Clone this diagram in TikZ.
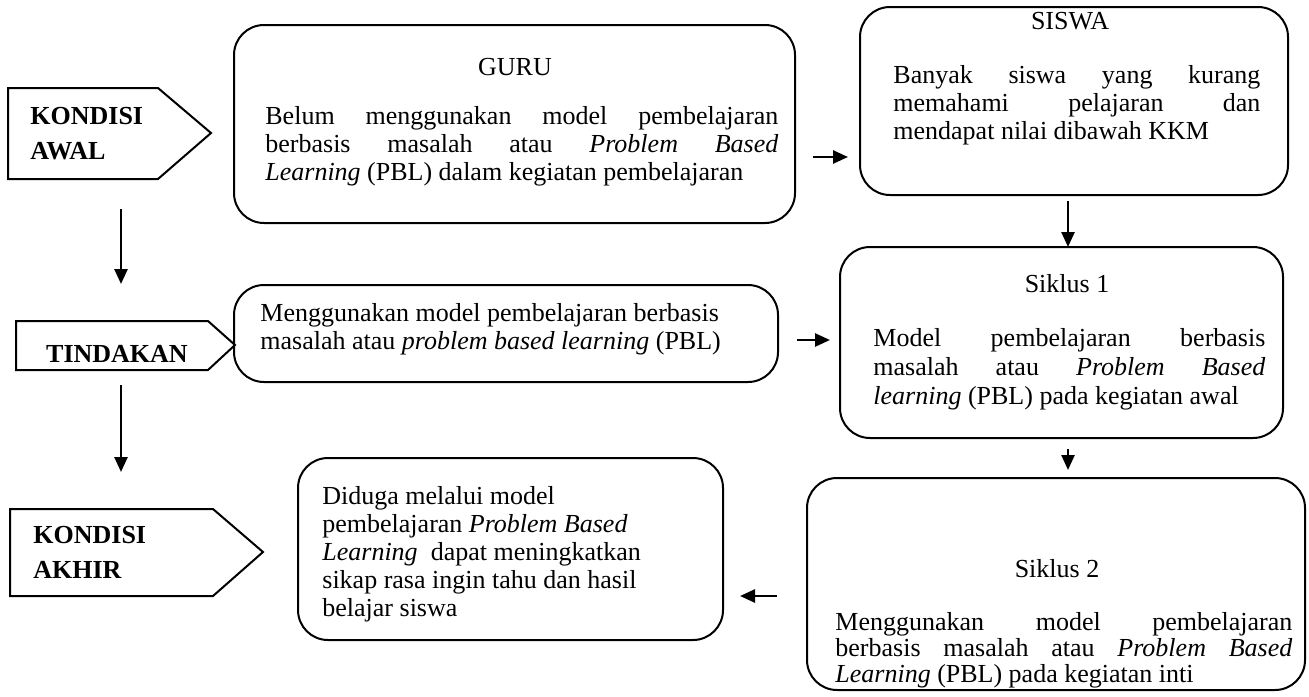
\documentclass[tikz,border=0pt]{standalone}
\usepackage{fontspec}
\setmainfont{Liberation Serif}
\usetikzlibrary{arrows.meta}
\newcommand\jl[1]{\makebox[\linewidth][s]{#1}}
\begin{document}
\begin{tikzpicture}[x=0.5pt,y=-0.5pt,
  rbox/.style={draw, line width=1pt, rounded corners=15pt, inner sep=0pt},
  pent/.style={draw, line width=1pt},
  arr/.style={-{Triangle[length=7.5pt,width=6.5pt]}, line width=1.3pt},
  txt/.style={inner sep=0pt, anchor=base west, font=\fontsize{13}{14}\selectfont},
  ttl/.style={inner sep=0pt, anchor=base, font=\fontsize{13}{14}\selectfont},
  lbl/.style={inner sep=0pt, anchor=base west, font=\fontsize{13}{17.5}\selectfont\bfseries}]
\useasboundingbox (0,0) rectangle (1309,696);

% left pentagons
\draw[pent] (8,88) -- (158,88) -- (211,133) -- (158,179) -- (8,179) -- cycle;
\node[lbl] (awal) at (30,124) {\parbox[t]{75pt}{KONDISI\\AWAL}};
\draw[pent] (16,321) -- (208,321) -- (235,345) -- (208,370) -- (16,370) -- cycle;
\node[ttl, font=\fontsize{13}{14}\selectfont\bfseries] (tind) at (117,362) {TINDAKAN};
\draw[pent] (10,509) -- (213,509) -- (263,552) -- (213,596) -- (10,596) -- cycle;
\node[lbl] (akhir) at (33,543) {\parbox[t]{75pt}{KONDISI\\AKHIR}};

% boxes
\node[rbox, minimum width=280.5pt, minimum height=99pt] (guru) at (514.5,124) {};
\node[ttl] (gurut) at (515,75) {GURU};
\node[txt] (gurup) at (265,124) {\parbox[t]{256.5pt}{\jl{Belum menggunakan model pembelajaran}\\
\jl{berbasis masalah atau \textit{Problem Based}}\\
\textit{Learning} (PBL) dalam kegiatan pembelajaran}};

\node[rbox, minimum width=214pt, minimum height=94pt] (siswa) at (1074,101) {};
\node[ttl] (siswat) at (1070,29) {SISWA};
\node[txt] (siswap) at (893,83) {\parbox[t]{183.5pt}{\jl{Banyak siswa yang kurang}\\
\jl{memahami pelajaran dan}\\
mendapat nilai dibawah KKM}};

\node[rbox, minimum width=272pt, minimum height=48.5pt] (meng) at (506,333.5) {};
\node[txt] (mengp) at (260,321) {\parbox[t]{250pt}{Menggunakan model pembelajaran berbasis\\
masalah atau \textit{problem based learning} (PBL)}};

\node[rbox, minimum width=221.5pt, minimum height=95.5pt] (s1) at (1061.5,342.5) {};
\node[ttl] (s1t) at (1067,292) {Siklus 1};
\node[txt, font=\fontsize{13}{14.5}\selectfont] (s1p) at (873,346) {\parbox[t]{196pt}{\jl{Model pembelajaran berbasis}\\
\jl{masalah atau \textit{Problem Based}}\\
\textit{learning} (PBL) pada kegiatan awal}};

\node[rbox, minimum width=249pt, minimum height=106pt] (s2) at (1056,584) {};
\node[ttl] (s2t) at (1057,577) {Siklus 2};
\node[txt, font=\fontsize{13}{13}\selectfont] (s2p) at (835,630) {\parbox[t]{228.5pt}{\jl{Menggunakan model pembelajaran}\\
\jl{berbasis masalah atau \textit{Problem Based}}\\
\textit{Learning} (PBL) pada kegiatan inti}};

\node[rbox, minimum width=212.5pt, minimum height=91pt] (dug) at (510.5,549) {};
\node[txt] (dugp) at (322,504) {\parbox[t]{190pt}{Diduga melalui model\\
pembelajaran \textit{Problem Based}\\
\textit{Learning}\ \ dapat meningkatkan\\
sikap rasa ingin tahu dan hasil\\
belajar siswa}};

% arrows
\coordinate (a1s) at (121,209); \coordinate (a1e) at (121,284);
\coordinate (a2s) at (121,385); \coordinate (a2e) at (121,472);
\coordinate (a3s) at (813,157); \coordinate (a3e) at (848,157);
\coordinate (a4s) at (1068,201); \coordinate (a4e) at (1068,247);
\coordinate (a5s) at (797,340); \coordinate (a5e) at (830,340);
\coordinate (a6s) at (1068,449); \coordinate (a6e) at (1068,470);
\coordinate (a7s) at (777,596); \coordinate (a7e) at (740,596);
\draw[arr] (a1s) -- (a1e);
\draw[arr] (a2s) -- (a2e);
\draw[arr] (a3s) -- (a3e);
\draw[arr] (a4s) -- (a4e);
\draw[arr] (a5s) -- (a5e);
\draw[arr] (a6s) -- (a6e);
\draw[arr] (a7s) -- (a7e);
\end{tikzpicture}
\end{document}
